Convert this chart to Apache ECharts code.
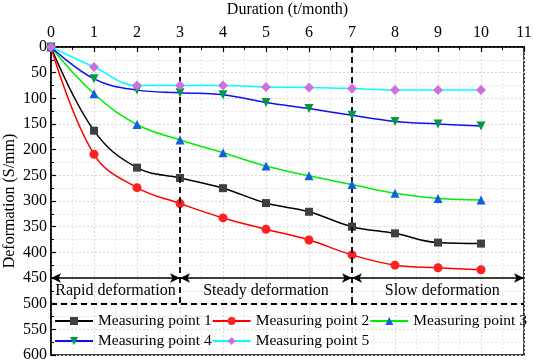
<!DOCTYPE html>
<html>
<head>
<meta charset="utf-8">
<script src="https://cdn.jsdelivr.net/npm/echarts@6/dist/echarts.min.js"></script>
<style>html,body{margin:0;padding:0;background:#fff}#c{width:533px;height:362px}</style>
</head>
<body>
<div id="c"></div>
<script>
const months = [0, 1, 2, 3, 4, 5, 6, 7, 8, 9, 10];
const point1 = [0, 163, 235, 255, 275, 304, 321, 350, 363, 381, 383];
const point2 = [0, 209, 274, 305, 333, 355, 376, 405, 425, 430, 434];
const point3 = [0, 91, 151, 181, 206, 232, 251, 268, 285, 295, 298];
const point4 = [0, 62, 84, 89, 93, 108, 120, 133, 145, 150, 154];
const point5 = [0, 39, 75, 75, 75, 78, 79, 81, 84, 84, 84];
const seriesNames = ['Measuring point 1', 'Measuring point 2', 'Measuring point 3', 'Measuring point 4', 'Measuring point 5'];
const stageBounds = [0, 3, 7, 11];
const stageNames = ['Rapid deformation', 'Steady deformation', 'Slow deformation'];
const stageCenters = [1.5, 5, 9.1];
const arrowLevel = 450;
const limitLevel = 500;
const textLevel = 474;

const FONT = 'Liberation Serif';
const pair = arr => months.map((m, i) => [m, arr[i]]);

const styles = [
  {line: '#000000', mark: '#404040', symbol: 'rect', rot: 0, size: 8},
  {line: '#ff0000', mark: '#ff2020', symbol: 'circle', rot: 0, size: 9},
  {line: '#00ee00', mark: '#1060e0', symbol: 'triangle', rot: 0, size: 9},
  {line: '#1010f0', mark: '#009a44', symbol: 'triangle', rot: 180, size: 9},
  {line: '#00ffff', mark: '#cc70e0', symbol: 'diamond', rot: 0, size: 10}
];
const datasets = [point1, point2, point3, point4, point5];

const series = datasets.map((d, i) => ({
  name: seriesNames[i],
  type: 'line',
  data: pair(d),
  smooth: 0.4,
  symbol: styles[i].symbol,
  symbolRotate: styles[i].rot,
  symbolSize: styles[i].size,
  lineStyle: {color: styles[i].line, width: 1.5},
  itemStyle: {color: styles[i].mark},
  z: 3 + i
}));

// dashed stage boundaries
series.push({
  type: 'line', data: [], silent: true,
  markLine: {
    silent: true, symbol: 'none', animation: false,
    lineStyle: {color: '#000', type: [6, 4], width: 1.8},
    label: {show: false},
    data: [
      [{coord: [stageBounds[1], 0]}, {coord: [stageBounds[1], limitLevel]}],
      [{coord: [stageBounds[2], 0]}, {coord: [stageBounds[2], limitLevel]}],
      [{coord: [0, limitLevel]}, {coord: [11, limitLevel]}]
    ]
  }
});
// arrows
series.push({
  type: 'line', data: [], silent: true,
  markLine: {
    silent: true, symbol: ['arrow', 'arrow'], symbolSize: [7, 10], animation: false,
    lineStyle: {color: '#000', type: 'solid', width: 1.5},
    label: {show: false},
    data: [0, 1, 2].map(k => [{coord: [stageBounds[k], arrowLevel]}, {coord: [stageBounds[k + 1], arrowLevel]}])
  }
});
// stage texts
series.push({
  type: 'line', data: [], silent: true,
  markPoint: {
    silent: true, symbol: 'rect', symbolSize: 1, animation: false,
    itemStyle: {color: 'rgba(0,0,0,0)'},
    label: {show: true, position: 'inside', color: '#000', fontFamily: FONT, fontSize: 16, formatter: p => p.name},
    data: stageNames.map((n, k) => ({name: n, coord: [stageCenters[k], textLevel]}))
  }
});

const legendCommon = {
  orient: 'horizontal', width: 520, itemGap: 0, itemWidth: 38, itemHeight: 10, padding: 0,
  textStyle: {fontFamily: FONT, fontSize: 15.5, color: '#000'}
};

const chart = echarts.init(document.getElementById('c'), null, {renderer: 'canvas'});
chart.setOption({
  animation: false,
  backgroundColor: '#fff',
  grid: {left: 51, right: 9, top: 47, bottom: 7, containLabel: false, outerBoundsMode: 'none',
         show: true, borderColor: '#000', borderWidth: 1.5, backgroundColor: 'transparent'},
  legend: [
    Object.assign({data: seriesNames.slice(0, 3), left: 54, top: 313}, legendCommon),
    Object.assign({data: seriesNames.slice(3), left: 54, top: 333}, legendCommon)
  ],
  xAxis: {
    type: 'value', position: 'top', min: 0, max: 11, interval: 1,
    name: 'Duration (t/month)', nameLocation: 'middle', nameGap: 29, nameMoveOverlap: false,
    nameTextStyle: {fontFamily: FONT, fontSize: 16, color: '#000'},
    axisLine: {show: true, lineStyle: {color: '#000', width: 1.5}},
    axisTick: {show: true, inside: true, length: 5, lineStyle: {color: '#000', width: 1.2}},
    minorTick: {show: true, splitNumber: 2, length: 3, lineStyle: {color: '#000', width: 1}},
    axisLabel: {fontFamily: FONT, fontSize: 16, color: '#000', margin: 6},
    splitLine: {show: true, lineStyle: {color: '#d8d8d8', type: [2, 2], width: 1}},
    minorSplitLine: {show: true, lineStyle: {color: '#e6e6e6', type: [2, 2], width: 1}}
  },
  yAxis: {
    type: 'value', inverse: true, min: 0, max: 600, interval: 50,
    name: 'Deformation (S/mm)', nameLocation: 'middle', nameGap: 33, nameMoveOverlap: false,
    nameTextStyle: {fontFamily: FONT, fontSize: 16, color: '#000'},
    axisLine: {show: true, lineStyle: {color: '#000', width: 1.5}},
    axisTick: {show: true, inside: true, length: 5, lineStyle: {color: '#000', width: 1.2}},
    minorTick: {show: true, splitNumber: 2, length: 3, lineStyle: {color: '#000', width: 1}},
    axisLabel: {fontFamily: FONT, fontSize: 16, color: '#000', margin: 4},
    splitLine: {show: true, lineStyle: {color: '#d8d8d8', type: [2, 2], width: 1}},
    minorSplitLine: {show: true, lineStyle: {color: '#e6e6e6', type: [2, 2], width: 1}}
  },
  series: series
});
</script>
</body>
</html>
